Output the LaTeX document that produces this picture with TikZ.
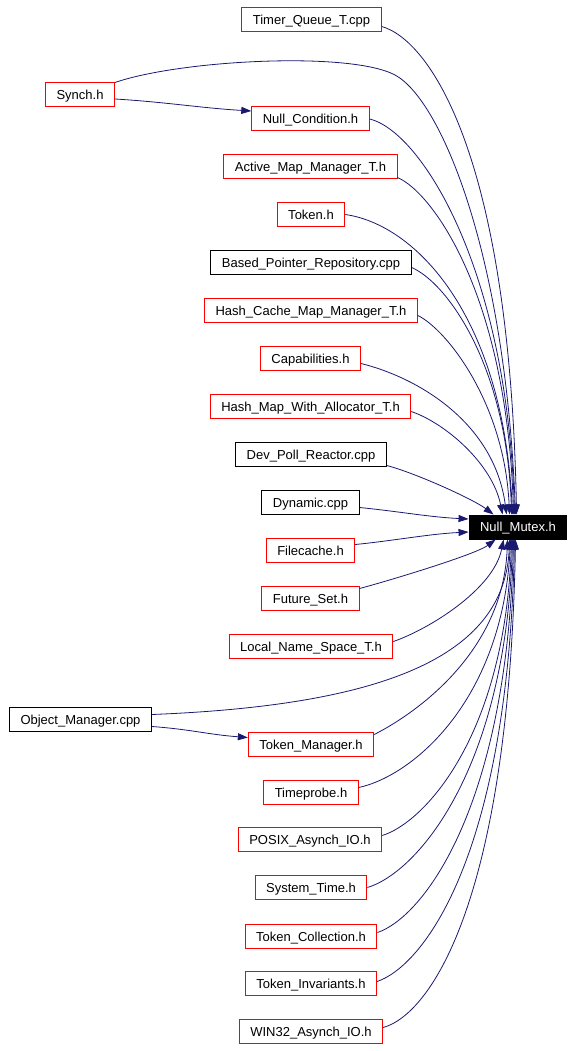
\documentclass[tikz,border=0pt]{standalone}
\usepackage{fontspec}
\setmainfont{Liberation Sans}
\usepackage{tikz}
\usetikzlibrary{arrows.meta,positioning}

\definecolor{midnight}{HTML}{191970}

\begin{document}
\begin{tikzpicture}[x=1pt,y=-1pt,
  redbox/.style={rectangle,draw=red,line width=1pt,fill=white,inner xsep=11pt,minimum height=24pt,text height=9.3pt,text depth=0pt,font=\fontsize{13}{15}\selectfont},
  blackbox/.style={redbox,draw=black},
  mainbox/.style={redbox,draw=black,fill=black,text=white},
  incl/.style={draw=midnight,line width=0.8pt,-{Triangle[length=10pt,width=7pt]}}]
\useasboundingbox (0,0) rectangle (573,1051);
\node[mainbox]  (0)  at (518,527)   {Null\_Mutex.h};
\node[redbox]   (1)  at (311.5,19.5) {Timer\_Queue\_T.cpp};
\node[redbox]   (2)  at (80,95)     {Synch.h};
\node[redbox]   (3)  at (310.5,119) {Null\_Condition.h};
\node[redbox]   (4)  at (310.5,166.5) {Active\_Map\_Manager\_T.h};
\node[redbox]   (5)  at (311,214.5) {Token.h};
\node[blackbox] (6)  at (311,262.5) {Based\_Pointer\_Repository.cpp};
\node[redbox]   (7)  at (311,310.5) {Hash\_Cache\_Map\_Manager\_T.h};
\node[redbox]   (8)  at (310.5,358.5) {Capabilities.h};
\node[redbox]   (9)  at (310.5,406.5) {Hash\_Map\_With\_Allocator\_T.h};
\node[blackbox] (10) at (311,454.5) {Dev\_Poll\_Reactor.cpp};
\node[blackbox] (11) at (310.5,502.5) {Dynamic.cpp};
\node[redbox]   (12) at (310.5,550.5) {Filecache.h};
\node[redbox]   (13) at (310.5,598.5) {Future\_Set.h};
\node[redbox]   (14) at (311,646.5) {Local\_Name\_Space\_T.h};
\node[blackbox] (15) at (80.5,719.5) {Object\_Manager.cpp};
\node[redbox]   (16) at (311,744.5) {Token\_Manager.h};
\node[redbox]   (17) at (311,792.5) {Timeprobe.h};
\node[redbox]   (18) at (310,839.5) {POSIX\_Asynch\_IO.h};
\node[redbox]   (19) at (311,887.5) {System\_Time.h};
\node[redbox]   (20) at (311,936.5) {Token\_Collection.h};
\node[redbox]   (21) at (311,983.5) {Token\_Invariants.h};
\node[redbox]   (22) at (311,1031.5) {WIN32\_Asynch\_IO.h};
% includes from above
\draw[incl] ([yshift=-7pt]1.east) .. controls +(47,13) and +(-7,-362) .. ([xshift=48pt]0.north west);
\draw[incl] (2.north east) .. controls (180,60) and (350,51) .. (395,75) .. controls (440,99) and (505,250) .. ([xshift=47pt]0.north west);
\draw[incl] ([yshift=-4pt]2.east) .. controls +(50,3) and +(-50,-3) .. ([yshift=8pt]3.west);
\draw[incl] (3.east) .. controls +(50,12) and +(-8,-250) .. ([xshift=46pt]0.north west);
\draw[incl] ([yshift=-11pt]4.east) .. controls +(35,15) and +(-7,-220) .. ([xshift=45pt]0.north west);
\draw[incl] (5.east) .. controls +(70,10) and +(-10,-200) .. ([xshift=44pt]0.north west);
\draw[incl] ([yshift=-5pt]6.east) .. controls +(35,15) and +(-5,-150) .. ([xshift=43pt]0.north west);
\draw[incl] ([yshift=-5pt]7.east) .. controls +(30,15) and +(-5,-110) .. ([xshift=41pt]0.north west);
\draw[incl] ([yshift=-5pt]8.east) .. controls +(60,15) and +(-12,-90) .. ([xshift=38pt]0.north west);
\draw[incl] ([yshift=-5pt]9.east) .. controls +(35,12) and +(-10,-50) .. ([xshift=34pt]0.north west);
\draw[incl] ([yshift=-11pt]10.east) .. controls +(30,8) and +(-20,-15) .. ([xshift=25pt]0.north west);
% includes from the side
\draw[incl] ([yshift=-5pt]11.east) .. controls +(40,4) and +(-40,-2) .. ([yshift=8pt]0.west);
\draw[incl] ([yshift=6pt]12.east) .. controls +(40,-4) and +(-40,2) .. ([yshift=-5pt]0.west);
% includes from below
\draw[incl] ([yshift=10pt]13.east) .. controls +(30,-8) and +(-20,15) .. ([xshift=27pt]0.south west);
\draw[incl] ([yshift=5pt]14.east) .. controls +(35,-12) and +(-10,50) .. ([xshift=35pt]0.south west);
\draw[incl] ([yshift=5pt]15.east) .. controls +(227,-9) and +(-5,119) .. ([xshift=41pt]0.south west);
\draw[incl] ([yshift=-7pt]15.east) .. controls +(40,3) and +(-40,-3) .. ([yshift=7pt]16.west);
\draw[incl] ([yshift=10pt]16.east) .. controls +(30,-15) and +(-5,120) .. ([xshift=39pt]0.south west);
\draw[incl] ([yshift=5pt]17.east) .. controls +(55,-12) and +(-8,160) .. ([xshift=42pt]0.south west);
\draw[incl] ([yshift=4pt]18.east) .. controls +(40,-12) and +(-7,200) .. ([xshift=43pt]0.south west);
\draw[incl] (19.east) .. controls +(50,-15) and +(-7,230) .. ([xshift=44pt]0.south west);
\draw[incl] ([yshift=4pt]20.east) .. controls +(45,-15) and +(-7,270) .. ([xshift=45pt]0.south west);
\draw[incl] ([yshift=2pt]21.east) .. controls +(45,-15) and +(-7,320) .. ([xshift=46pt]0.south west);
\draw[incl] ([yshift=4pt]22.east) .. controls +(47,-13) and +(-7,362) .. ([xshift=47pt]0.south west);
\end{tikzpicture}
\end{document}
